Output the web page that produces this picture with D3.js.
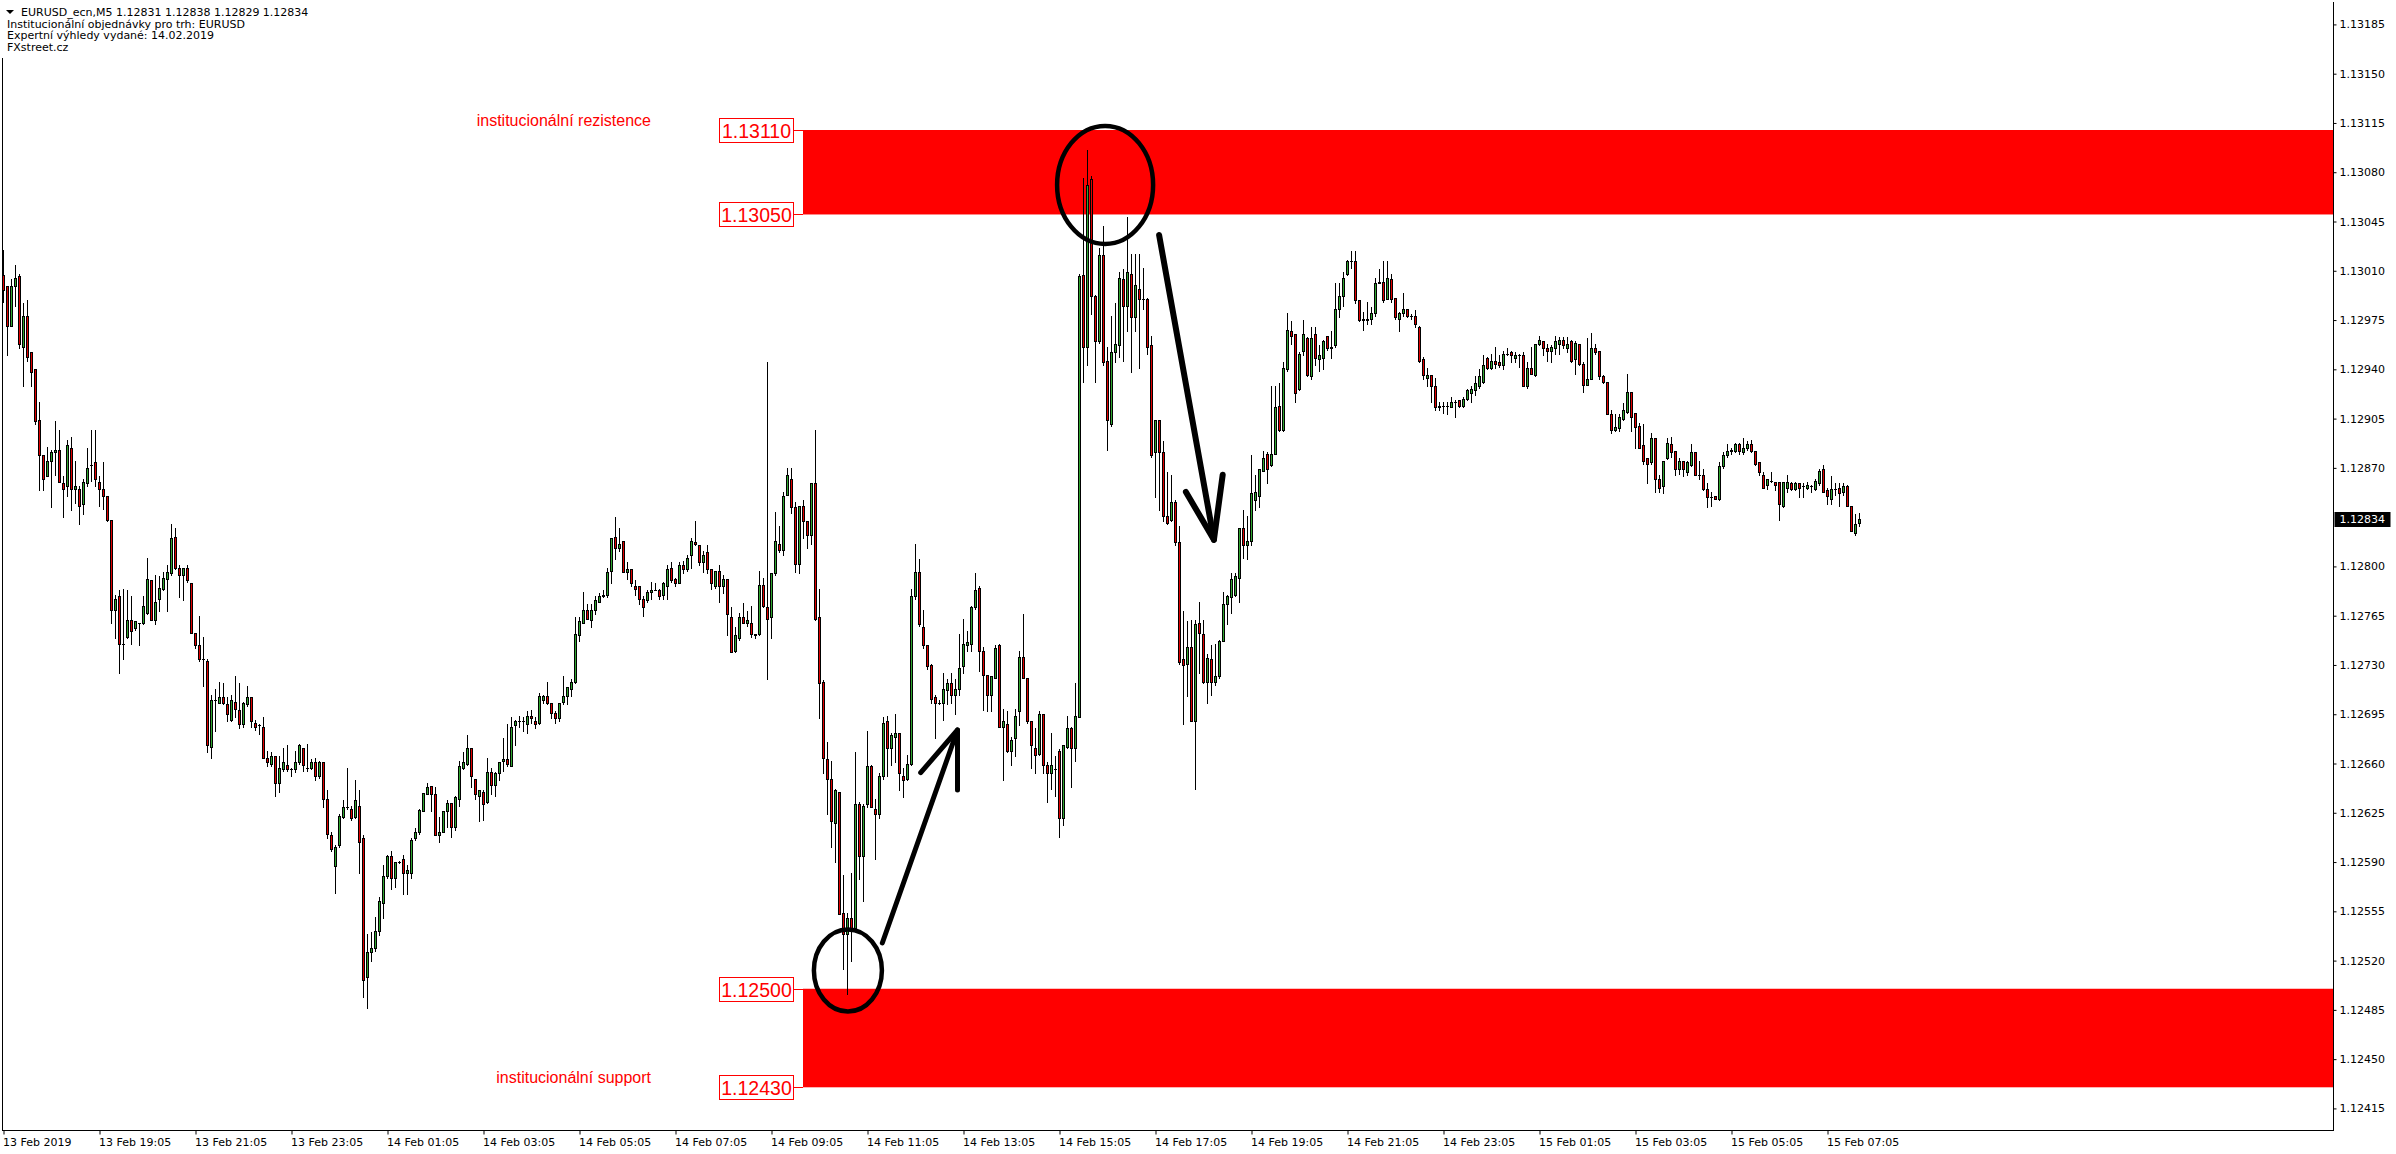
<!DOCTYPE html>
<html>
<head>
<meta charset="utf-8">
<script src="https://cdn.jsdelivr.net/npm/d3@7"></script>
<style>
body{margin:0;background:#fff;}
svg{display:block;}
</style>
</head>
<body>
<svg id="chart" width="2396" height="1154"></svg>
<script>
// EURUSD M5, od 13 Feb 2019 17:05, hodnoty v bodech: cena = BASE + body/100000
var BASE = 1.12;
var opens = [
1007,999,971,999,1006,956,978,952,940,904, 879,864,875,881,883,859,857,884,855,855,
844,859,872,874,860,855,850,833,769,779, 745,750,762,756,760,760,767,790,762,777,
784,791,795,821,799,794,799,788,753,744, 734,733,672,705,703,707,702,691,704,698,
688,702,707,689,687,686,664,660,665,646, 656,659,656,656,661,671,657,657,661,651,
661,635,609,587,602,622,629,628,622,630, 607,508,526,529,541,561,580,594,579,590,
592,582,582,607,611,626,638,644,638,609, 611,626,632,615,635,657,660,671,649,637,
640,633,654,645,653,662,663,658,687,690, 690,688,694,690,689,705,708,703,696,692,
704,708,713,718,751,760,769,762,769,775, 780,780,797,821,813,818,796,798,786,786,
777,776,782,783,783,780,786,799,791,788, 801,798,808,817,815,803,810,798,786,797,
786,791,764,740,749,764,760,760,752,752, 787,771,764,795,816,812,851,862,842,802,
843,832,822,859,764,718,663,649,618,640, 554,539,550,543,631,594,631,658,628,624,
651,690,671,679,682,651,649,660,779,796, 757,744,730,707,703,703,712,717,709,713,
729,744,745,771,785,740,723,709,721,744, 686,688,669,678,697,736,721,690,671,667,
695,659,653,656,669,621,672,685,671,693, 1007,956,1075,992,960,1021,946,901,952,957,
1004,985,1008,977,997,990,990,957,881,904, 881,836,833,846,817,734,731,743,690,760,
752,718,734,718,722,747,773,778,780,792, 827,815,818,847,850,868,880,872,880,914,
897,940,967,965,926,953,962,935,965,947, 948,964,955,957,983,992,1008,1017,1017,989,
975,975,976,980,1001,1002,990,1004,991,976, 980,983,978,978,970,947,934,936,928,913,
914,914,913,917,918,914,919,923,925,928, 931,948,941,946,945,943,951,952,948,950,
950,928,941,936,958,960,955,953,955,958, 961,955,960,947,958,944,929,933,955,953,
935,931,908,897,898,905,910,924,909,900, 886,877,874,891,862,857,877,887,882,869,
875,867,872,881,865,865,855,849,850,848, 871,879,882,882,887,881,884,887,882,874,
865,858,861,860,860,843,856,859,855,859, 857,856,857,855,859,869,854,848,855,856,
853,857,843,824,831];
var highs = [
1025,999,1004,1014,1008,987,989,952,940,917, 879,885,883,903,897,864,890,892,875,857,
862,884,897,897,864,874,850,833,780,783, 784,783,779,761,760,779,806,790,794,793,
796,801,830,827,801,799,801,788,753,765, 750,734,709,713,718,717,707,709,722,717,
704,715,707,691,688,693,669,668,665,665, 671,673,657,669,674,671,674,663,664,662,
661,641,611,602,624,634,657,630,648,641, 609,539,540,551,565,588,595,598,590,591,
595,588,607,614,628,639,646,644,643,622, 626,634,632,637,662,668,680,671,649,641,
641,664,657,654,661,678,688,693,691,694, 693,697,698,693,710,709,718,703,697,703,
722,714,720,764,764,782,773,773,779,781, 783,799,820,835,827,818,803,798,790,786,
779,783,789,788,784,789,801,803,792,803, 804,808,820,832,815,811,815,798,797,801,
794,791,771,757,767,774,768,772,752,797, 792,945,795,839,829,853,870,870,846,843,
847,832,859,897,784,719,675,662,642,640, 581,554,582,668,633,631,683,659,635,653,
693,694,682,695,682,657,666,784,816,805, 769,744,731,709,705,724,720,724,720,752,
763,754,772,795,786,743,723,722,744,745, 699,697,679,699,740,766,721,690,685,697,
695,661,682,665,670,673,694,686,717,1008, 1076,1096,1077,993,1026,1042,956,978,987,1009,
1011,1048,1022,1022,1022,1012,991,964,904,904, 889,867,865,847,829,768,761,762,762,775,
762,738,744,745,748,782,780,795,795,827, 840,836,879,865,869,882,881,928,928,930,
945,980,974,965,952,975,963,970,970,957, 961,964,967,1001,1001,1009,1018,1024,1024,989,
981,988,984,1005,1011,1017,1017,1008,991,981, 994,983,979,982,971,949,941,936,934,917,
917,917,920,918,918,920,926,928,935,940, 950,949,951,956,950,953,955,953,952,951,
952,945,956,958,964,960,958,957,964,963, 963,963,961,960,958,945,962,966,958,953,
936,931,911,908,908,916,937,924,909,902, 901,877,895,891,865,875,891,892,882,877,
875,875,887,881,875,869,859,853,850,874, 881,887,884,888,888,891,889,890,882,874,
867,862,867,860,860,860,865,860,860,859, 859,860,858,862,869,872,856,864,859,859,
859,858,843,837,838];
var lows = [
988,950,971,985,955,928,946,928,901,854, 854,864,842,865,860,835,850,840,845,830,
837,857,861,857,843,841,832,760,749,724, 734,749,745,755,744,759,766,762,759,768,
783,768,794,798,778,776,789,753,742,733, 715,668,664,683,703,702,690,690,693,685,
686,701,686,684,681,664,658,658,637,640, 655,655,651,654,660,655,655,656,648,650,
629,607,598,568,601,621,628,620,621,582, 494,486,520,527,538,550,579,571,572,589,
567,567,579,606,610,626,638,626,609,604, 611,615,608,613,630,656,659,643,635,619,
620,632,638,637,648,655,658,658,673,686, 683,682,689,685,688,703,702,692,689,690,
702,702,708,717,747,760,763,757,766,775, 778,778,788,805,811,796,791,786,780,773,
765,775,777,783,777,777,777,789,786,788, 795,797,799,815,801,796,795,784,785,775,
781,751,739,739,748,760,758,750,749,751, 771,720,749,794,810,808,851,838,796,795,
820,813,816,762,692,653,624,601,590,553, 514,496,520,542,578,562,629,629,592,621,
649,651,659,661,641,636,648,659,777,758, 742,727,703,678,702,691,702,703,695,709,
724,740,740,770,726,698,697,697,721,686, 648,668,659,665,687,721,689,657,653,666,
653,633,642,637,608,616,671,643,662,693, 931,943,979,931,959,943,883,900,945,949,
946,967,938,967,941,983,951,878,849,840, 832,830,832,815,731,688,708,690,642,724,
717,703,709,716,721,747,759,767,779,775, 806,805,815,840,842,868,859,871,880,896,
896,939,958,917,925,950,935,933,943,939, 940,954,948,956,977,985,1007,1012,987,974,
968,972,972,978,1001,988,990,988,976,967, 978,977,976,970,945,933,928,917,911,911,
909,908,913,906,913,913,918,917,922,927, 930,940,940,941,942,940,950,945,945,942,
928,927,937,935,957,950,946,945,951,951, 955,952,945,937,943,924,929,933,951,933,
930,908,895,896,896,904,909,896,884,884, 873,859,873,853,853,852,876,878,865,866,
864,865,871,865,862,854,842,843,848,847, 870,878,880,881,880,880,883,881,872,865,
856,855,860,854,833,842,853,854,854,849, 849,855,853,854,858,853,844,844,851,843,
851,843,825,822,829];
var closes = [
996,971,999,1005,958,978,949,938,903,879, 862,875,881,883,860,855,886,855,857,843,
860,870,872,862,855,850,833,769,777,745, 745,762,754,761,760,772,791,762,775,785,
792,796,820,799,794,799,790,753,744,734, 734,673,705,705,707,703,695,705,699,688,
703,707,690,686,687,664,661,665,646,657, 661,656,656,661,673,659,657,661,651,661,
635,610,599,601,623,629,629,621,634,604, 506,526,529,541,562,580,594,579,590,590,
582,584,606,611,627,639,643,638,609,611, 626,632,615,636,658,661,671,651,638,641,
631,654,645,653,661,663,660,686,690,690, 690,694,692,688,708,708,703,696,692,703,
708,714,718,752,761,769,763,769,776,779, 779,796,820,813,816,796,798,788,784,777,
771,782,783,783,779,788,798,790,788,801, 798,806,818,816,803,808,798,788,797,786,
791,766,739,751,764,760,762,752,751,787, 772,763,795,818,812,850,865,842,802,843,
832,822,859,763,717,664,649,619,641,553, 539,550,542,631,594,630,658,629,624,651,
689,671,680,682,653,648,660,779,796,759, 744,729,706,703,703,713,717,709,713,728,
745,746,771,783,740,723,709,722,742,686, 690,669,677,694,736,721,690,673,666,695,
659,653,659,656,621,673,685,671,694,1006, 956,1071,992,960,1021,945,904,952,958,1005,
985,1009,977,1000,990,990,956,879,904,881, 836,831,846,817,732,730,743,690,759,753,
718,735,718,722,747,773,779,791,793,827, 815,818,852,853,869,877,869,880,913,897,
941,968,964,923,951,965,936,962,948,950, 960,955,956,983,992,1005,1017,1017,989,975,
976,976,980,1001,1002,989,1005,990,977,980, 983,978,978,972,946,936,936,928,913,914,
914,914,917,917,914,919,925,926,930,935, 943,941,946,944,943,951,951,950,950,950,
928,941,937,958,961,955,953,956,960,961, 957,958,946,959,944,929,933,955,952,935,
931,908,897,899,906,911,924,906,899,884, 875,873,891,862,856,875,888,881,869,875,
869,874,881,865,865,855,849,849,848,871, 879,882,883,887,882,884,887,882,873,867,
856,862,861,858,844,860,860,855,859,856, 857,858,857,861,868,853,850,855,855,852,
857,843,825,830,834];

var tickLabels = ["13 Feb 2019","13 Feb 19:05","13 Feb 21:05","13 Feb 23:05","14 Feb 01:05","14 Feb 03:05",
  "14 Feb 05:05","14 Feb 07:05","14 Feb 09:05","14 Feb 11:05","14 Feb 13:05","14 Feb 15:05","14 Feb 17:05",
  "14 Feb 19:05","14 Feb 21:05","14 Feb 23:05","15 Feb 01:05","15 Feb 03:05","15 Feb 05:05","15 Feb 07:05"];
var barsPerTick = 24; // 2 hodiny na M5
var yTicks = [1.12415,1.12450,1.12485,1.12520,1.12555,1.12590,1.12625,1.12660,1.12695,1.12730,1.12765,
  1.12800,1.12870,1.12905,1.12940,1.12975,1.13010,1.13045,1.13080,1.13115,1.13150,1.13185];
var lastPrice = 1.12834;

var zoneTops = [1.13110, 1.12500];
var zoneBottoms = [1.13050, 1.12430];
var zoneNames = ["institucionální rezistence", "institucionální support"];

var headerLines = ["EURUSD_ecn,M5  1.12831 1.12838 1.12829 1.12834",
  "Institucionální objednávky pro trh: EURUSD",
  "Expertní výhledy vydané: 14.02.2019",
  "FXstreet.cz"];

var width = 2396, height = 1154;
var plot = {left:2.5, top:2, right:2333.5, bottom:1130.5};
var green = "#2fa52f", red = "#e00000";

var svg = d3.select("#chart");
var n = closes.length;
var bars = d3.range(n).map(function(i){
  return {i:i, o:BASE+opens[i]/1e5, h:BASE+highs[i]/1e5, l:BASE+lows[i]/1e5, c:BASE+closes[i]/1e5};
});

var x = d3.scaleLinear().domain([0, 1]).range([3.5, 7.5]); // 4 px na svíčku
var y = d3.scaleLinear().domain([1.12430, 1.13110]).range([1087.3, 130]);

svg.append("rect").attr("width",width).attr("height",height).attr("fill","#fff");

svg.append("clipPath").attr("id","clip").append("rect")
  .attr("x",plot.left).attr("y",plot.top).attr("width",plot.right-plot.left).attr("height",plot.bottom-plot.top);

//zóny
var zoneLeft = 803;
var zg = svg.append("g");
zg.selectAll("rect.zone").data(zoneTops).enter().append("rect")
  .attr("class","zone")
  .attr("x",zoneLeft).attr("width",plot.right-zoneLeft)
  .attr("y",function(d){return y(d);})
  .attr("height",function(d,i){return y(zoneBottoms[i])-y(d);})
  .attr("fill","#ff0000");

//svíčky
var cg = svg.append("g").attr("clip-path","url(#clip)");
cg.selectAll("line.wick").data(bars).enter().append("line")
  .attr("x1",function(d){return x(d.i);}).attr("x2",function(d){return x(d.i);})
  .attr("y1",function(d){return Math.round(y(d.h));}).attr("y2",function(d){return Math.round(y(d.l))+1;})
  .attr("stroke","#000").attr("stroke-width",1).attr("shape-rendering","crispEdges");
cg.selectAll("rect.body").data(bars.filter(function(d){return Math.round(y(d.o))!=Math.round(y(d.c));})).enter().append("rect")
  .attr("x",function(d){return x(d.i)-1;}).attr("width",2)
  .attr("y",function(d){return Math.round(y(Math.max(d.o,d.c)))+0.5;})
  .attr("height",function(d){return Math.round(y(Math.min(d.o,d.c)))-Math.round(y(Math.max(d.o,d.c)));})
  .attr("fill",function(d){return d.c>d.o?green:red;})
  .attr("stroke","#000").attr("stroke-width",1);
cg.selectAll("line.doji").data(bars.filter(function(d){return Math.round(y(d.o))==Math.round(y(d.c));})).enter().append("line")
  .attr("x1",function(d){return x(d.i)-1.5;}).attr("x2",function(d){return x(d.i)+1.5;})
  .attr("y1",function(d){return Math.round(y(d.c))+0.5;}).attr("y2",function(d){return Math.round(y(d.c))+0.5;})
  .attr("stroke","#000").attr("stroke-width",1);

//popisky zón
var lg = svg.append("g");
zoneTops.concat(zoneBottoms).forEach(function(p){
  var yy = y(p);
  lg.append("line").attr("x1",793).attr("x2",zoneLeft).attr("y1",Math.round(yy)+0.5).attr("y2",Math.round(yy)+0.5)
    .attr("stroke","#ff0000").attr("stroke-width",1);
  lg.append("rect").attr("x",719.5).attr("y",Math.round(yy)-11.5).attr("width",74).attr("height",24)
    .attr("fill","#fff").attr("stroke","#ff0000").attr("stroke-width",1);
  lg.append("text").attr("x",756.5).attr("y",Math.round(yy)+7.5).attr("text-anchor","middle")
    .attr("font-family","Liberation Sans, Arial, sans-serif").attr("font-size",19.5).attr("fill","#ff0000")
    .text(p.toFixed(5));
});
lg.append("text").attr("x",651).attr("y",y(zoneTops[0])-4)
  .attr("text-anchor","end").attr("font-family","Liberation Sans, Arial, sans-serif").attr("font-size",16)
  .attr("fill","#ff0000").text(zoneNames[0]);
lg.append("text").attr("x",651).attr("y",y(zoneBottoms[1])-4)
  .attr("text-anchor","end").attr("font-family","Liberation Sans, Arial, sans-serif").attr("font-size",16)
  .attr("fill","#ff0000").text(zoneNames[1]);

//kresby: elipsy a šipky (souřadnice v svíčkách a cenách)
var ag = svg.append("g").attr("fill","none").attr("stroke","#000").attr("stroke-linecap","round");
var ellipses = [{bar:275.4, price:1.13071, rx:48, ry:59}, {bar:211.1, price:1.12513, rx:34, ry:41}];
ag.selectAll("ellipse").data(ellipses).enter().append("ellipse")
  .attr("cx",function(d){return x(d.bar);}).attr("cy",function(d){return y(d.price);})
  .attr("rx",function(d){return d.rx;}).attr("ry",function(d){return d.ry;})
  .attr("stroke-width",4.5);
var arrows = [
  {from:[219.7,1.125325], tip:[238.5,1.126838], head1:[229.3,1.126535], head2:[238.5,1.126412], w:5},
  {from:[288.9,1.130354], tip:[302.6,1.128189], head1:[295.6,1.128529], head2:[304.8,1.128651], w:6}
];
arrows.forEach(function(a){
  var line = d3.line().x(function(p){return x(p[0]);}).y(function(p){return y(p[1]);});
  ag.append("path").attr("d",line([a.from,a.tip])).attr("stroke-width",a.w);
  ag.append("path").attr("d",line([a.head1,a.tip,a.head2])).attr("stroke-width",a.w).attr("stroke-linejoin","round");
});

//rámeček
var fg = svg.append("g").attr("stroke","#000").attr("stroke-width",1).attr("shape-rendering","crispEdges");
fg.append("line").attr("x1",plot.left).attr("x2",plot.left).attr("y1",58).attr("y2",plot.bottom);
fg.append("line").attr("x1",plot.left).attr("x2",plot.right).attr("y1",plot.bottom).attr("y2",plot.bottom);
fg.append("line").attr("x1",plot.right).attr("x2",plot.right).attr("y1",plot.top).attr("y2",plot.bottom);

//osa Y
var yAxis = d3.axisRight(y).tickValues(yTicks).tickFormat(d3.format(".5f")).tickSize(3).tickPadding(3);
var yg = svg.append("g").attr("transform","translate("+plot.right+",0)").call(yAxis);
yg.select(".domain").remove();
yg.selectAll("text").attr("font-family","DejaVu Sans, Verdana, sans-serif").attr("font-size",11).attr("fill","#000");

//aktuální cena
var py = Math.round(y(lastPrice));
svg.append("rect").attr("x",plot.right+1).attr("y",py-7).attr("width",56).attr("height",15).attr("fill","#000");
svg.append("text").attr("x",plot.right+6).attr("y",py+4).attr("font-family","DejaVu Sans, Verdana, sans-serif")
  .attr("font-size",11).attr("fill","#fff").text(lastPrice.toFixed(5));

//osa X
var xAxis = d3.axisBottom(x).tickValues(tickLabels.map(function(t,i){return i*barsPerTick;}))
  .tickFormat(function(d,i){return tickLabels[i];}).tickSize(4).tickPadding(4);
var xg = svg.append("g").attr("transform","translate(0,"+plot.bottom+")").call(xAxis);
xg.select(".domain").remove();
xg.selectAll("text").attr("text-anchor","start").attr("dx",-1).attr("font-family","DejaVu Sans, Verdana, sans-serif")
  .attr("font-size",11).attr("fill","#000");

//hlavička
var hg = svg.append("g").attr("font-family","DejaVu Sans, Verdana, sans-serif").attr("font-size",11).attr("fill","#000");
hg.append("path").attr("d","M6,10 L14,10 L10,14 Z").attr("fill","#000");
hg.selectAll("text").data(headerLines).enter().append("text")
  .attr("x",function(d,i){return i==0?21:7;})
  .attr("y",function(d,i){return 16+i*11.7;})
  .text(function(d){return d;});
</script>
</body>
</html>
